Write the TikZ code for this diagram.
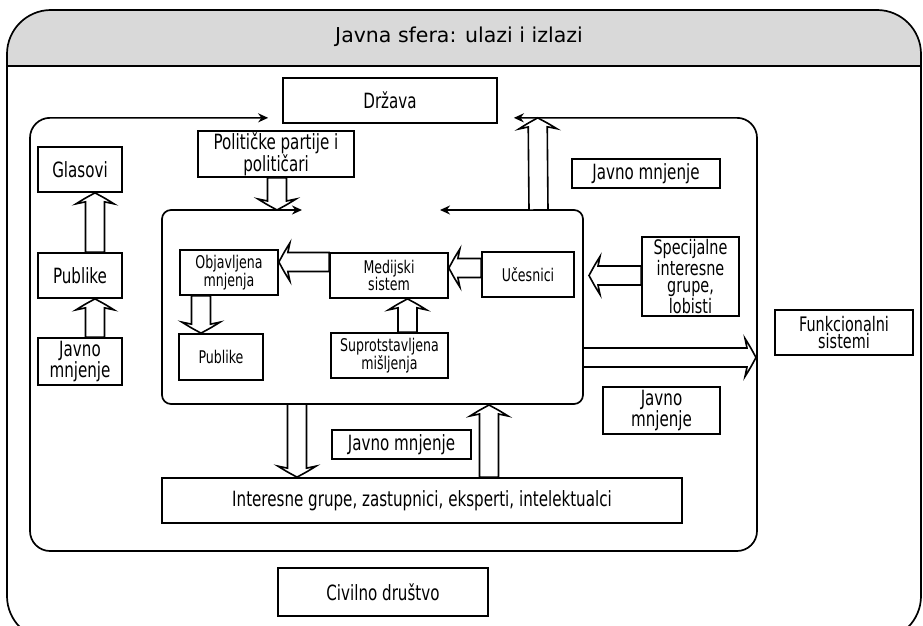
\documentclass[tikz,border=0pt]{standalone}
\usepackage{fontspec}
\setmainfont{DejaVu Sans}
\newfontfamily\cf{DejaVu Sans}[FakeStretch=0.72]
\usetikzlibrary{calc,arrows.meta}
\definecolor{headgray}{HTML}{D9D9D9}
\tikzset{
  box/.style={draw, line width=1.7pt, fill=white, inner sep=1pt, align=center,
    font=\cf\fontsize{21}{16}\selectfont},
  inbox/.style={box, font=\cf\fontsize{17.5}{16.5}\selectfont},
  tallbox/.style={box, font=\cf\fontsize{20}{17.5}\selectfont},
  frame/.style={line width=1.7pt},
  harrow/.style={draw, line width=1.6pt, fill=white, line join=miter},
  tips/.style={{Stealth[length=10pt,width=9pt]}-{Stealth[length=10pt,width=9pt]}}
}
\newcommand\hollowarrow[2]{%
  \path[harrow] let \p1=#1, \p2=#2, \n1={atan2(\y2-\y1,\x2-\x1)},
    \n2={veclen(\x2-\x1,\y2-\y1)} in
    {[shift={(\p1)}, rotate=\n1]
     (0pt,9.5pt) -- (\n2-9pt,9.5pt) -- (\n2-11pt,19pt)
     .. controls (\n2-6pt,11pt) .. (\n2,0pt)
     .. controls (\n2-6pt,-11pt) .. (\n2-11pt,-19pt)
     -- (\n2-9pt,-9.5pt) -- (0pt,-9.5pt) -- cycle};
}
\begin{document}
\begin{tikzpicture}[x=1pt,y=-1pt]
\useasboundingbox (0,0) rectangle (923,626);
% outer frame with grey header
\begin{scope}
  \clip[rounded corners=44pt] (7,10) rectangle (921,640);
  \fill[headgray] (0,0) rectangle (923,66);
\end{scope}
\draw[frame, rounded corners=44pt] (7,10) rectangle (921,640);
\draw[frame] (7,66) -- (921,66);
\node[font=\fontsize{20.5}{20}\selectfont] (title) at (459,37) {Javna sfera: ulazi i izlazi};

% nodes
\node[box, minimum width=214pt, minimum height=45pt] (drz) at (390,100.5) {Država};
\node[box, minimum width=156pt, minimum height=46pt] (pp) at (276,154) {Političke partije i\\političari};
\node[box, minimum width=84pt, minimum height=45pt] (gl) at (80,169.5) {Glasovi};
\node[box, minimum width=84pt, minimum height=45pt] (pl) at (80,275.5) {Publike};
\node[box, minimum width=84pt, minimum height=47pt] (jl) at (80,361.5) {Javno\\mnjenje};
\node[box, minimum width=148pt, minimum height=29pt] (jur) at (646,173.5) {Javno mnjenje};

% middle frame with arrows towards Drzava
\coordinate (mtl) at ($(drz.south west)+(-14,-6)$);
\coordinate (mbl) at (30,551);
\coordinate (mbr) at (757,551);
\coordinate (mtr) at ($(drz.south east)+(16,-6)$);
\draw[frame, tips, rounded corners=20pt] (mtl) -| (mbl) -| (mbr |- mtl) -- (mtr);

% inner frame
\coordinate (itl) at (162,210);
\coordinate (ibr) at (583,404);
\coordinate (ia) at (302,210);
\coordinate (ib) at (440,210);
\draw[frame, tips, rounded corners=9pt] (ia) -| (itl |- ibr) -| (ibr |- itl) -- (ib);

\node[inbox, minimum width=98pt, minimum height=45pt] (obj) at (229,272.5) {Objavljena\\mnjenja};
\node[inbox, minimum width=118pt, minimum height=45pt] (med) at (389,275.5) {Medijski\\sistem};
\node[inbox, minimum width=92pt, minimum height=45pt] (uc) at (528,274.5) {Učesnici};
\node[inbox, minimum width=84pt, minimum height=46pt] (pi) at (221,357) {Publike};
\node[inbox, minimum width=117pt, minimum height=45pt] (sup) at (389.5,355.5) {Suprotstavljena\\mišljenja};
\node[tallbox, minimum width=97pt, minimum height=79pt] (spec) at (690.5,276.5) {Specijalne\\interesne\\grupe,\\lobisti};
\node[tallbox, minimum width=138pt, minimum height=45pt] (fun) at (844,332.5) {Funkcionalni\\sistemi};
\node[box, minimum width=117pt, minimum height=47pt] (jlr) at (661.5,410.5) {Javno\\mnjenje};
\node[box, minimum width=139pt, minimum height=29pt] (jm) at (401.5,444.5) {Javno mnjenje};
\node[box, minimum width=520pt, minimum height=45pt] (int) at (422,500.5) {Interesne grupe, zastupnici, eksperti, intelektualci};
\node[box, minimum width=210pt, minimum height=48pt] (civ) at (383,592) {Civilno društvo};

% hollow arrows
\coordinate (ppa) at ($(pp.south)+(1,0)$);
\coordinate (ppb) at ($(pp.south |- itl)+(1,0)$);
\coordinate (fa) at (583,357.5);
\hollowarrow{($(jl.north)+(15,0)$)}{($(pl.south)+(15,0)$)}
\hollowarrow{($(pl.north)+(15,0)$)}{($(gl.south)+(15,0)$)}
\hollowarrow{(ppa)}{(ppb)}
\hollowarrow{($(obj.south)+(-28,0)$)}{($(pi.north)+(-20,0)$)}
\hollowarrow{($(med.west)+(0,-13.5)$)}{($(obj.east)+(0,-10.5)$)}
\hollowarrow{($(uc.west)+(0,-6.5)$)}{($(med.east)+(0,-7.5)$)}
\hollowarrow{($(sup.north)+(18,0)$)}{($(med.south)+(18.5,0)$)}
\hollowarrow{($(spec.west)+(0,-1)$)}{($(ibr |- spec.west)+(6,-1)$)}
\hollowarrow{(fa)}{($(mbr |- fa)+(-1,0)$)}
\hollowarrow{($(ibr -| int.north)+(-125,0)$)}{($(int.north)+(-125,0)$)}
\hollowarrow{($(int.north)+(67,0)$)}{($(ibr -| int.north)+(67,1)$)}
\hollowarrow{($(itl)+(376.5,0)$)}{($(mtl)+(269.5,0)$)}
\end{tikzpicture}
\end{document}
